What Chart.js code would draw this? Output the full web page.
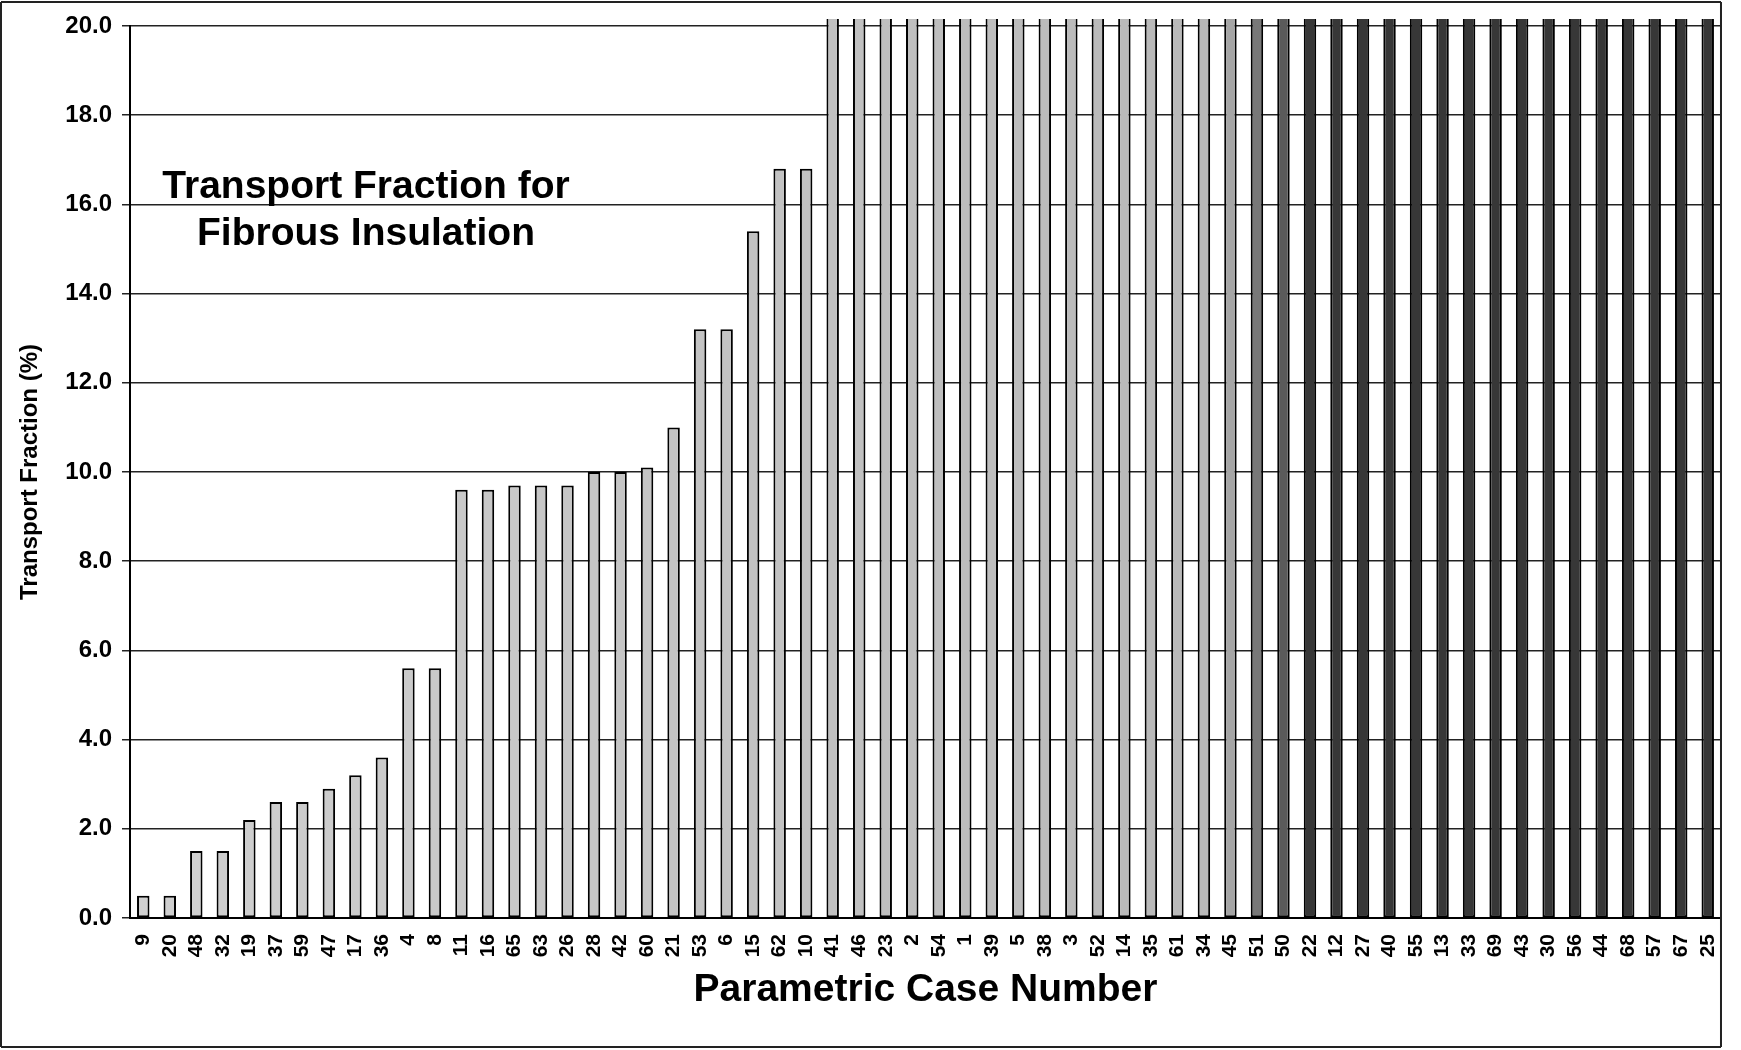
<!DOCTYPE html>
<html>
<head>
<meta charset="utf-8">
<title>Transport Fraction for Fibrous Insulation</title>
<script src="https://cdn.jsdelivr.net/npm/chart.js@4/dist/chart.umd.min.js"></script>
<style>
  body { margin: 0; background: #fff; }
  canvas { display: block; }
</style>
</head>
<body>
<canvas id="tf" width="1741" height="1050"></canvas>
<script>
// case numbers, sorted by transport fraction
let cases = [
  "9", "20", "48", "32", "19", "37", "59", "47", "17", "36",
  "4", "8", "11", "16", "65", "63", "26", "28", "42", "60",
  "21", "53", "6", "15", "62", "10", "41", "46", "23", "2",
  "54", "1", "39", "5", "38", "3", "52", "14", "35", "61",
  "34", "45", "51", "50", "22", "12", "27", "40", "55", "13",
  "33", "69", "43", "30", "56", "44", "68", "57", "67", "25",
];

// transport fraction (%) - bars from case 41 on run past the top of the axis
let fraction = [
  0.5, 0.5, 1.5, 1.5, 2.2, 2.6, 2.6, 2.9, 3.2, 3.6,
  5.6, 5.6, 9.6, 9.6, 9.7, 9.7, 9.7, 10.0, 10.0, 10.1,
  11.0, 13.2, 13.2, 15.4, 16.8, 16.8, 20.2, 20.2, 20.2, 20.2,
  20.2, 20.2, 20.2, 20.2, 20.2, 20.2, 20.2, 20.2, 20.2, 20.2,
  20.2, 20.2, 20.2, 20.2, 20.2, 20.2, 20.2, 20.2, 20.2, 20.2,
  20.2, 20.2, 20.2, 20.2, 20.2, 20.2, 20.2, 20.2, 20.2, 20.2,
];

let yMin = 0;
let yMax = 20;
let yStep = 2;

let chartTitle = ["Transport Fraction for", "Fibrous Insulation"];

const FONT = "'Liberation Sans', Arial, sans-serif";

// bars go from light grey to almost black along the axis
function barGrey(i) {
  let g;
  if (i <= 40) g = 208 - i * 0.6;
  else if (i === 41) g = 165;
  else if (i === 42) g = 120;
  else if (i === 43) g = 90;
  else g = 55;
  g = Math.round(g);
  return `rgb(${g}, ${g}, ${g})`;
}

let framePlugin = {
  id: "frame",
  afterDraw(chart) {
    const ctx = chart.ctx;
    const area = chart.chartArea;
    ctx.save();

    // right edge of the plot / figure box
    ctx.strokeStyle = "#222";
    ctx.lineWidth = 2;
    ctx.beginPath();
    ctx.moveTo(area.right, 2);
    ctx.lineTo(area.right, 1047);
    ctx.moveTo(1, 2);
    ctx.lineTo(area.right, 2);
    ctx.moveTo(1, 1047);
    ctx.lineTo(area.right, 1047);
    ctx.moveTo(1, 2);
    ctx.lineTo(1, 1047);
    ctx.stroke();

    // title inside the plot
    ctx.fillStyle = "#000";
    ctx.font = `bold 39px ${FONT}`;
    ctx.textAlign = "center";
    ctx.textBaseline = "middle";
    ctx.fillText(chartTitle[0], area.left + 236, area.top + 161);
    ctx.fillText(chartTitle[1], area.left + 236, area.top + 208);
    ctx.restore();
  },
};

new Chart(document.querySelector("#tf"), {
  type: "bar",
  data: {
    labels: cases,
    datasets: [
      {
        label: "Transport Fraction (%)",
        data: fraction,
        backgroundColor: (c) => barGrey(c.dataIndex),
        borderColor: "#000",
        borderWidth: 2,
        borderSkipped: false,
        barPercentage: 0.47,
        categoryPercentage: 1,
        clip: { left: 0, top: 7, right: 0, bottom: 0 },
      },
    ],
  },
  options: {
    responsive: false,
    animation: false,
    layout: { padding: { top: 26, right: 8, bottom: 0, left: 0 } },
    plugins: {
      legend: { display: false },
      tooltip: { enabled: false },
    },
    scales: {
      x: {
        grid: { display: false },
        border: { display: true, color: "#000", width: 2 },
        ticks: {
          color: "#000",
          font: { family: FONT, size: 21, weight: "bold" },
          minRotation: 90,
          maxRotation: 90,
          autoSkip: false,
          padding: 8,
        },
        title: {
          display: true,
          text: "Parametric Case Number",
          color: "#000",
          font: { family: FONT, size: 39, weight: "bold" },
          padding: { top: 0, bottom: 36 },
        },
        afterFit(scale) {
          scale.height = 132;
        },
      },
      y: {
        min: yMin,
        max: yMax,
        grid: {
          color: "#222",
          lineWidth: 1.5,
          tickLength: 8,
        },
        border: { display: true, color: "#000", width: 2 },
        ticks: {
          stepSize: yStep,
          color: "#000",
          padding: 10,
          font: { family: FONT, size: 24, weight: "bold" },
          callback: (v) => v.toFixed(1),
        },
        title: {
          display: true,
          text: "Transport Fraction (%)",
          color: "#000",
          font: { family: FONT, size: 24, weight: "bold" },
          padding: { top: 16, bottom: 0 },
        },
        afterFit(scale) {
          scale.width = 130;
        },
      },
    },
  },
  plugins: [framePlugin],
});
</script>
</body>
</html>
